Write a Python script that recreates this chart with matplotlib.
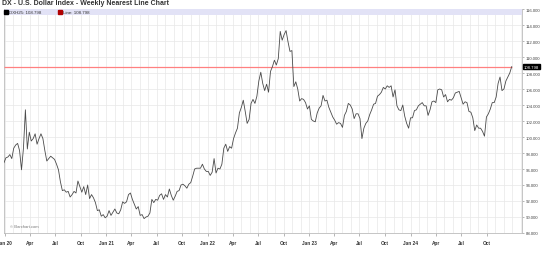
import numpy as np
import pandas as pd
import matplotlib
matplotlib.use('Agg')
import matplotlib.pyplot as plt
import matplotlib.dates as mdates
from matplotlib.ticker import FixedLocator, FormatStrFormatter
from matplotlib.transforms import blended_transform_factory

plt.rcParams['font.family'] = ['Liberation Sans', 'DejaVu Sans']

# weekly closes, DX nearest futures (week starting Mondays, first = 2019-12-30)
dx_2020 = [96.8, 97.4, 97.5, 97.8, 97.3,
           98.6, 99.0, 99.2, 98.3,
           95.9, 98.6, 103.4, 98.5, 100.6,
           99.5, 99.8, 100.4, 99.1,
           99.8, 100.4, 99.8, 98.3,
           97.0, 97.3, 97.6, 97.4, 97.2,
           96.6, 95.9, 94.4, 93.3,
           93.4, 93.1, 93.2, 92.5, 92.8,
           93.2, 93.0, 94.5, 93.8,
           93.1, 93.8, 92.8, 94.0,
           92.3, 92.8, 92.4, 91.8, 90.8,
           90.9, 90.1, 90.3, 89.9]
dx_2021 = [90.1, 90.8, 90.2, 90.6,
           91.0, 90.5, 90.4, 90.9,
           91.9, 91.7, 91.9, 92.8, 93.0,
           92.2, 91.6, 91.0, 91.3,
           90.2, 90.3, 89.8, 90.0, 90.1,
           90.5, 92.2, 91.8, 92.2,
           92.1, 92.7, 92.9, 92.2,
           92.8, 92.5, 93.5, 92.7, 92.1,
           92.6, 93.2, 93.3, 94.0,
           94.1, 93.9, 93.6, 94.1,
           94.3, 95.1, 96.0, 96.1, 96.1,
           96.1, 96.6, 96.0, 95.7]
dx_2022 = [95.7, 95.2, 95.6, 97.3, 95.5,
           96.1, 96.0, 96.6, 98.6,
           99.1, 98.2, 98.8, 98.6,
           99.8, 100.5, 101.1, 103.0,
           103.7, 104.6, 103.2, 101.7, 102.2,
           104.2, 104.7, 104.2, 105.1,
           107.0, 108.1, 106.7, 105.8,
           106.6, 105.6, 108.2, 108.8, 109.6,
           109.0, 109.8, 113.2, 112.1,
           112.8, 113.3, 111.9, 110.7, 110.8,
           106.3, 106.9, 106.0, 104.5,
           104.8, 104.7, 104.3, 103.5]
dx_2023 = [103.9, 102.2, 102.0, 101.9, 103.0,
           103.6, 103.9, 105.2, 104.5,
           104.6, 103.7, 103.1, 102.5,
           102.1, 101.6, 101.8, 101.7,
           101.2, 102.7, 103.2, 104.2, 104.0,
           103.5, 102.3, 102.9, 102.9,
           102.3, 99.8, 101.1, 101.7, 102.0,
           102.8, 103.4, 104.1, 104.2,
           105.1, 105.3, 105.6, 106.2,
           106.0, 106.4, 106.2, 106.4, 105.0,
           105.9, 103.9, 103.4, 103.3,
           104.0, 102.6, 101.7, 101.1]
dx_2024 = [102.4, 102.4, 103.3, 103.4, 103.9,
           104.1, 104.3, 103.9, 103.9,
           102.7, 103.4, 104.4, 104.5,
           104.3, 105.9, 106.0, 105.9, 105.0,
           105.3, 104.4, 104.7, 104.6,
           104.9, 105.5, 105.6, 105.7,
           104.9, 104.1, 104.4, 104.3, 103.2,
           103.1, 102.4, 100.8, 101.5,
           101.1, 101.1, 100.7, 100.1, 102.5,
           102.9, 103.5, 104.3, 104.3,
           105.0, 106.7, 107.5, 105.8,
           106.0, 107.0, 107.5, 108.0, 108.798]
last_price = 108.798
contract = 'DXH25'

values = dx_2020 + dx_2021 + dx_2022 + dx_2023 + dx_2024
dates = pd.date_range('2019-12-30', periods=len(values), freq='7D')

fig = plt.figure(figsize=(5.42, 2.55), dpi=100)
ax = fig.add_axes([4 / 542, 1 - 234 / 255, 518 / 542, 224 / 255])

grid_c = '#e8e8e8'
ax.plot(dates, values, color='#4a4a4a', lw=0.6, zorder=4)
ax.hlines(last_price, dates[0], dates[-1], color='#ff8080', lw=0.9, zorder=3)

ax.set_xlim(pd.Timestamp('2019-12-30'), pd.Timestamp('2025-02-05'))
ax.set_ylim(88, 116)

# legend band at top
ax.axhspan(115.2, 116, color='#e2e2f6', zorder=2, lw=0)

# x axis: quarterly labels, monthly grid
qdates = pd.date_range('2020-01-01', '2024-10-01', freq='QS')
qlabels = [f"Jan {d:%y}" if d.month == 1 else d.strftime('%b') for d in qdates]
ax.xaxis.set_major_locator(FixedLocator(mdates.date2num(qdates)))
ax.set_xticklabels(qlabels)
ax.xaxis.set_minor_locator(mdates.MonthLocator())
ax.grid(True, which='both', axis='x', color=grid_c, lw=0.5, zorder=1)
ax.grid(True, which='major', axis='y', color=grid_c, lw=0.5, zorder=1)

ax.yaxis.tick_right()
ax.set_yticks(np.arange(88, 117, 2))
ax.yaxis.set_major_formatter(FormatStrFormatter('%.3f'))

ax.tick_params(axis='x', which='major', length=2, width=0.5, color='#999999',
               labelsize=3.4, labelcolor='#333333', pad=3)
ax.tick_params(axis='x', which='minor', length=0)
ax.tick_params(axis='y', length=1.5, width=0.5, color='#999999',
               labelsize=3.1, labelcolor='#444444', pad=1)
for lbl in ax.get_xticklabels():
    lbl.set_fontweight('bold')

for s in ['left', 'bottom', 'right']:
    ax.spines[s].set_color('#bbbbbb')
    ax.spines[s].set_linewidth(0.6)
ax.spines['top'].set_visible(False)

# last price box on the right axis
tr = blended_transform_factory(ax.transAxes, ax.transData)
ax.text(1.004, last_price, f'{last_price:.3f}', transform=tr, fontsize=3.1,
        color='white', va='center', ha='left', zorder=6,
        bbox=dict(boxstyle='square,pad=0.15', fc='black', ec='black'))

# legend entries
ax.plot([0.004], [0.985], marker='s', ms=2.3, color='black',
        transform=ax.transAxes, clip_on=False, zorder=5)
ax.text(0.009, 0.985, f'{contract}: {last_price:.3f}', transform=ax.transAxes,
        fontsize=3.2, color='#333333', va='center', zorder=5)
ax.plot([0.108], [0.985], marker='s', ms=2.3, color='#b00000',
        transform=ax.transAxes, clip_on=False, zorder=5)
ax.text(0.113, 0.985, f'Line: {last_price:.3f}', transform=ax.transAxes,
        fontsize=3.2, color='#333333', va='center', zorder=5)

ax.text(0.012, 0.022, '\u00a9 Barchart.com', transform=ax.transAxes,
        fontsize=3.0, color='#777777', va='bottom', zorder=5)

fig.text(2 / 542, 1 - 4 / 255, 'DX - U.S. Dollar Index - Weekly Nearest Line Chart',
         fontsize=5.0, fontweight='bold', color='#333333', va='center', ha='left')

fig.savefig('out.png', dpi=100, facecolor='white')
